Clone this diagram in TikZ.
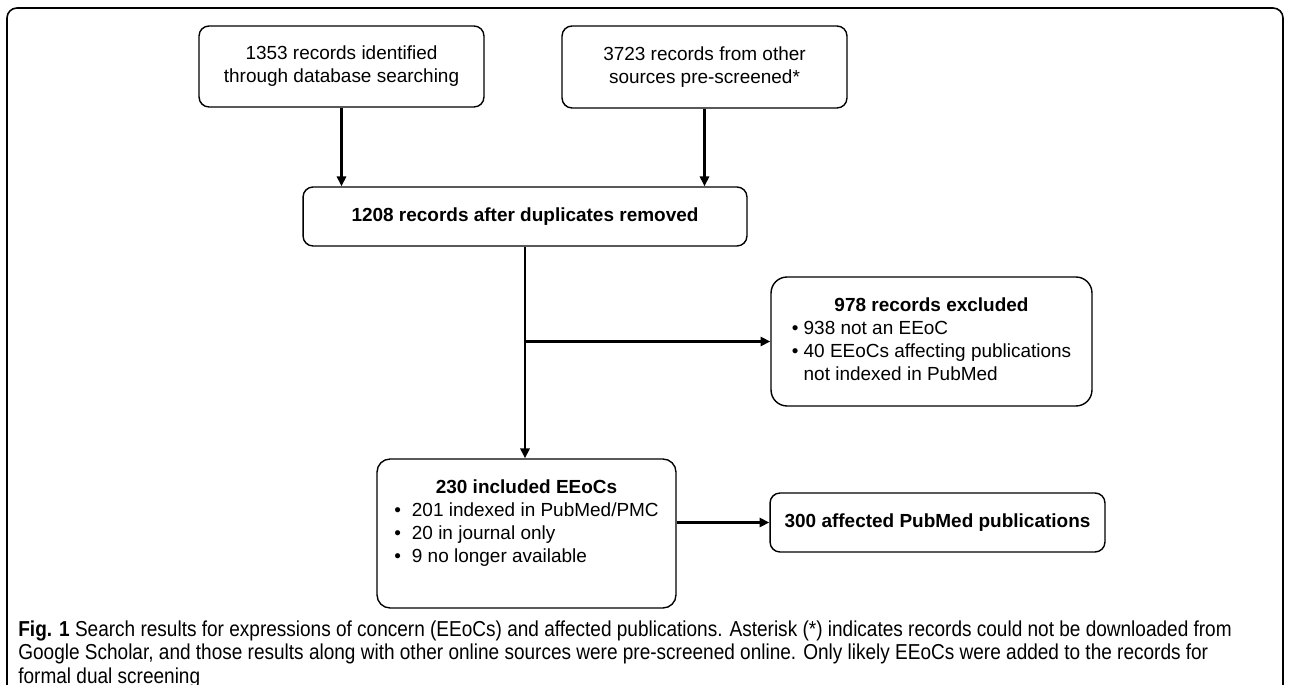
\documentclass[tikz,border=0pt]{standalone}
\usepackage{fontspec}
\setmainfont{Liberation Sans}
\newfontfamily\capfont[FakeStretch=0.88]{Liberation Sans}
\usetikzlibrary{arrows,arrows.meta,calc,positioning}
\tikzset{%
        auto,
        node distance=2.5cm
}
\tikzstyle{box}=[
    draw = black,
    fill = white,
    rounded corners = 0.2cm,
    line width = 0.8pt,
    align = center,
    inner sep = 0pt,
    font = \fontsize{10.8pt}{13pt}\selectfont
]
\tikzstyle{flow}=[
    draw = black,
    line width = 1.5pt,
    -{Triangle[length=5.6pt,width=5.2pt]}
]

\begin{document}
\begin{tikzpicture}[x=0.02cm, y=-0.02cm]
        \useasboundingbox (0,0) rectangle (1290,685);
        \draw[line width=0.9pt, rounded corners=0.2cm]
            (7,700) -- (7,8) -- (1283,8) -- (1283,700);
        \node[box, minimum width=5.7cm, minimum height=1.62cm] (db) at (341.5,66.5)
            {1353 records identified\\through database searching};
        \node[box, minimum width=5.7cm, minimum height=1.64cm] (other) at (704.5,67)
            {3723 records from other\\sources pre-screened*};
        \node[box, minimum width=8.88cm, minimum height=1.18cm] (dedup) at (525,216.5)
            {\textbf{1208 records after duplicates removed}};
        \node[box, rounded corners=0.32cm, minimum width=6.42cm, minimum height=2.58cm] (excl) at (931.5,341.5)
            {\begin{tabular}{@{}l@{}}
             \multicolumn{1}{@{}c@{}}{\textbf{978 records excluded}}\\
             \textbullet\ 938 not an EEoC\\
             \textbullet\ 40 EEoCs affecting publications\\
             \phantom{\textbullet\ }not indexed in PubMed
             \end{tabular}};
        \node[box, rounded corners=0.26cm, minimum width=5.98cm, minimum height=2.98cm] (incl) at (526.5,533.5)
            {\begin{tabular}{@{}c@{\hspace{0.22cm}}l@{}}
             \multicolumn{2}{@{}c@{}}{\textbf{230 included EEoCs}}\\
             \textbullet & 201 indexed in PubMed/PMC\\
             \textbullet & 20 in journal only\\
             \textbullet & 9 no longer available\\[0.4cm]
             \end{tabular}};
        \node[box, minimum width=6.7cm, minimum height=1.18cm] (pubs) at (937.5,522.5)
            {\textbf{300 affected PubMed publications}};
        \coordinate (split) at (dedup.south |- excl.west);
        \draw[flow] (db) -- (db |- dedup.north);
        \draw[flow] (other) -- (other |- dedup.north);
        \draw[flow] (dedup) -- (dedup |- incl.north);
        \draw[flow] (split) -- (excl);
        \draw[flow] (incl.east |- pubs.west) -- (pubs.west);
        % caption under the chart
        \node[anchor=north west, inner sep=0pt, align=left,
              font=\capfont\fontsize{12.3pt}{13.4pt}\selectfont] (caption) at (18,620)
            {\textbf{Fig. 1} Search results for expressions of concern (EEoCs) and affected publications. Asterisk (*) indicates records could not be downloaded from\\
             Google Scholar, and those results along with other online sources were pre-screened online. Only likely EEoCs were added to the records for\\
             formal dual screening};
\end{tikzpicture}
\end{document}
